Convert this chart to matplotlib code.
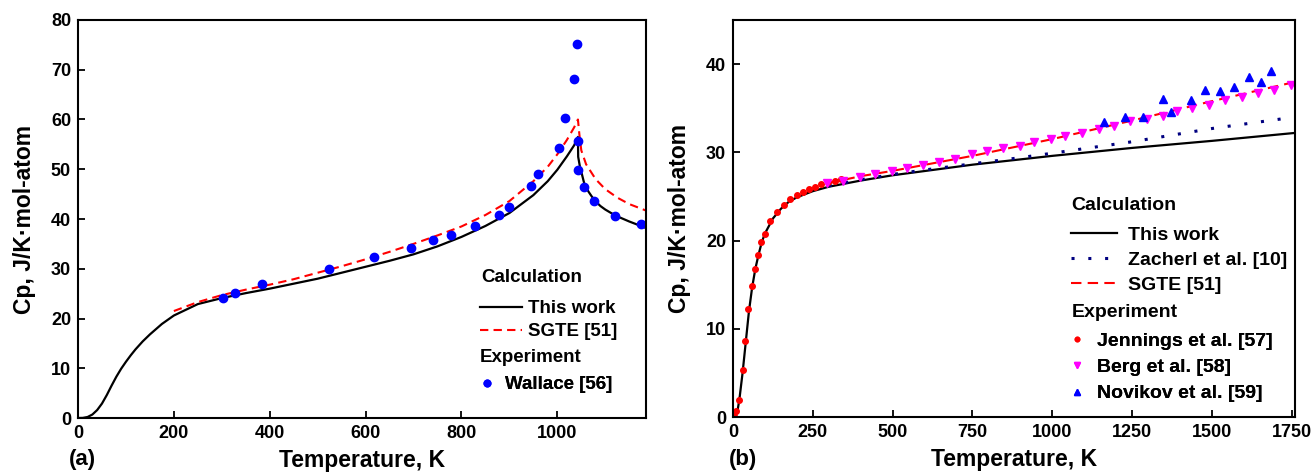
import matplotlib
matplotlib.use('Agg')
import matplotlib.pyplot as plt

plt.rcParams['font.family'] = ['Liberation Sans', 'DejaVu Sans']
plt.rcParams['font.weight'] = 'bold'

# ---- panel (a) ----
a_calc_T = [0, 10, 20, 30, 40, 50, 60, 70, 80, 90, 100, 110, 120, 135, 150, 175, 200,
            250, 300, 350, 400, 450, 500, 550, 600, 650, 700, 750, 800, 850, 900, 950,
            980, 1000, 1020, 1035, 1043, 1043.5, 1047, 1050, 1056, 1065, 1077, 1090,
            1100, 1121, 1150, 1185]
a_calc_cp = [0, 0.02, 0.2, 0.7, 1.6, 2.9, 4.6, 6.5, 8.3, 9.9, 11.3, 12.6, 13.8, 15.4,
             16.8, 18.9, 20.6, 22.9, 24.1, 25.1, 26.0, 27.0, 28.0, 29.2, 30.4, 31.6,
             32.9, 34.5, 36.4, 38.6, 41.2, 44.8, 47.6, 49.9, 52.6, 54.8, 56.5, 52.5,
             50.6, 49.5, 47.2, 45.5, 43.8, 42.6, 41.9, 40.7, 39.5, 38.2]

a_sgte_T = [200, 250, 300, 350, 400, 450, 500, 550, 600, 650, 700, 750, 800, 850, 900,
            950, 980, 1000, 1020, 1035, 1043, 1046, 1050, 1060, 1080, 1100, 1125,
            1150, 1185]
a_sgte_cp = [21.5, 23.3, 24.7, 25.8, 26.8, 27.9, 29.2, 30.5, 31.9, 33.4, 35.0, 36.7,
             38.5, 40.8, 43.6, 47.6, 50.5, 53.0, 55.9, 58.4, 60.0, 57.0, 53.8, 51.0,
             48.0, 46.0, 44.3, 43.0, 41.7]

wallace_T = [303, 328, 383, 523, 618, 694, 741, 778, 828, 878, 900, 945, 959, 1003,
             1017, 1034, 1042, 1044, 1043, 1056, 1077, 1121, 1175]
wallace_cp = [24.2, 25.2, 26.9, 30.0, 32.4, 34.1, 35.8, 36.7, 38.6, 40.8, 42.4, 46.7,
              49.0, 54.3, 60.3, 68.2, 75.1, 55.7, 49.8, 46.5, 43.7, 40.7, 38.9]

# ---- panel (b) ----
b_calc_T = [0, 5, 10, 15, 20, 30, 40, 50, 60, 70, 80, 90, 100, 125, 150, 175, 200, 250,
            300, 400, 500, 750, 1000, 1250, 1500, 1760]
b_calc_cp = [0, 0.05, 0.3, 0.9, 2.0, 5.0, 8.5, 12.0, 14.7, 16.8, 18.4, 19.8, 20.8, 22.5,
             23.6, 24.4, 24.9, 25.6, 26.1, 26.8, 27.4, 28.6, 29.6, 30.5, 31.3, 32.2]

zacherl_T = [300, 400, 500, 600, 750, 900, 1000, 1250, 1500, 1720]
zacherl_cp = [26.2, 26.9, 27.5, 28.0, 28.7, 29.4, 29.9, 31.2, 32.7, 33.8]

b_sgte_T = [298, 400, 500, 750, 1000, 1250, 1500, 1750]
b_sgte_cp = [26.5, 27.3, 27.9, 29.6, 31.5, 33.6, 35.8, 37.9]

jennings_T = [4, 10, 19.5, 30, 39, 48, 58.5, 69, 79, 88.5, 99, 117, 139, 159, 180, 199,
              218.6, 238, 257.6, 277, 297, 319, 338]
jennings_cp = [0.1, 0.7, 1.9, 5.3, 8.6, 12.2, 14.8, 16.8, 18.4, 19.8, 20.7, 22.2, 23.2,
               24.0, 24.7, 25.2, 25.5, 25.8, 26.1, 26.4, 26.6, 26.8, 27.0]

berg_T = [295, 345, 397, 446, 498, 546, 595, 644, 696, 748, 794, 846, 898, 943, 995,
          1041, 1093, 1145, 1193, 1242, 1295, 1347, 1392, 1438, 1490, 1542, 1594, 1643,
          1695, 1747]
berg_cp = [26.5, 26.7, 27.2, 27.5, 27.9, 28.2, 28.6, 28.9, 29.3, 29.8, 30.1, 30.5, 30.7,
           31.2, 31.5, 31.9, 32.2, 32.6, 33.0, 33.5, 33.8, 34.1, 34.7, 35.0, 35.4, 35.9,
           36.3, 36.7, 37.1, 37.6]

novikov_T = [1162, 1227, 1284, 1347, 1373, 1435, 1477, 1526, 1570, 1615, 1654, 1685]
novikov_cp = [33.4, 34.0, 34.0, 36.1, 34.6, 35.9, 37.1, 37.0, 37.4, 38.5, 38.0, 39.2]

fig = plt.figure(figsize=(13.12, 4.73), dpi=100)
ax1 = fig.add_axes([78/1312, 1-418/473, (646-78)/1312, (418-20)/473])
ax2 = fig.add_axes([733/1312, 1-417/473, (1295-733)/1312, (417-20)/473])

for ax in (ax1, ax2):
    for s in ax.spines.values():
        s.set_linewidth(1.5)
    ax.tick_params(direction='in', length=5, width=1.3, labelsize=13, pad=5)
    ax.set_xlabel('Temperature, K', fontsize=16.5, fontweight='bold', labelpad=5)
    ax.set_ylabel('Cp, J/K\u00b7mol-atom', fontsize=16.5, fontweight='bold', labelpad=11)


def add_legend(ax, handles, labels, x, y, size, hlen, hpad, spacing, mscale=1.0):
    lg = ax.legend(handles, labels, loc='upper left', bbox_to_anchor=(x, y),
                   frameon=False, prop={'size': size, 'weight': 'bold'},
                   borderpad=0, borderaxespad=0, handlelength=hlen,
                   handletextpad=hpad, labelspacing=spacing, markerscale=mscale)
    ax.add_artist(lg)
    return lg


# (a)
l1, = ax1.plot(a_calc_T, a_calc_cp, color='black', lw=1.6)
l2, = ax1.plot(a_sgte_T, a_sgte_cp, color='red', lw=1.5, ls=(0, (4, 2.5)))
p1, = ax1.plot(wallace_T, wallace_cp, 'o', color='blue', ms=6, ls='none')
ax1.set_xlim(0, 1185)
ax1.set_ylim(0, 80)
ax1.set_xticks([0, 200, 400, 600, 800, 1000])
ax1.set_yticks(range(0, 81, 10))

ax1.text(0.7095, 0.352, 'Calculation', transform=ax1.transAxes, fontsize=13.5,
         fontweight='bold', va='center', ha='left')
ax1.text(0.708, 0.153, 'Experiment', transform=ax1.transAxes, fontsize=13.5,
         fontweight='bold', va='center', ha='left')
add_legend(ax1, [l1, l2], ['This work', 'SGTE [51]'], 0.7077, 0.296, 13.5, 2.25, 0.3, 0.3)
add_legend(ax1, [p1], ['Wallace [56]'], 0.7077, 0.105, 13.5, 0.7, 0.65, 0.3, mscale=0.8)
fig.text(69/1312, 1-459/473, '(a)', fontsize=16, fontweight='bold', va='center')

# (b)
m1, = ax2.plot(b_calc_T, b_calc_cp, color='black', lw=1.6)
m2, = ax2.plot(zacherl_T, zacherl_cp, color='#000080', lw=2.2, ls=(0, (1, 4.5)))
m3, = ax2.plot(b_sgte_T, b_sgte_cp, color='red', lw=1.5, ls=(0, (5, 3)))
q1, = ax2.plot(jennings_T, jennings_cp, 'o', color='red', ms=4, ls='none')
q2, = ax2.plot(berg_T, berg_cp, 'v', color='magenta', ms=5.5, ls='none')
q3, = ax2.plot(novikov_T, novikov_cp, '^', color='blue', ms=5.5, ls='none')
ax2.set_xlim(0, 1760)
ax2.set_ylim(0, 45)
ax2.set_xticks(range(0, 1751, 250))
ax2.set_yticks([0, 10, 20, 30, 40])

ax2.text(0.601, 0.534, 'Calculation', transform=ax2.transAxes, fontsize=14,
         fontweight='bold', va='center', ha='left')
ax2.text(0.602, 0.262, 'Experiment', transform=ax2.transAxes, fontsize=14,
         fontweight='bold', va='center', ha='left')
add_legend(ax2, [m1, m2, m3], ['This work', 'Zacherl et al. [10]', 'SGTE [51]'],
           0.601, 0.481, 14, 2.37, 0.57, 0.38)
add_legend(ax2, [q1, q2, q3], ['Jennings et al. [57]', 'Berg et al. [58]', 'Novikov et al. [59]'],
           0.601, 0.214, 14, 0.62, 0.72, 0.45, mscale=0.8)
fig.text(729/1312, 1-459/473, '(b)', fontsize=16, fontweight='bold', va='center')

fig.savefig('out.png', dpi=100)
